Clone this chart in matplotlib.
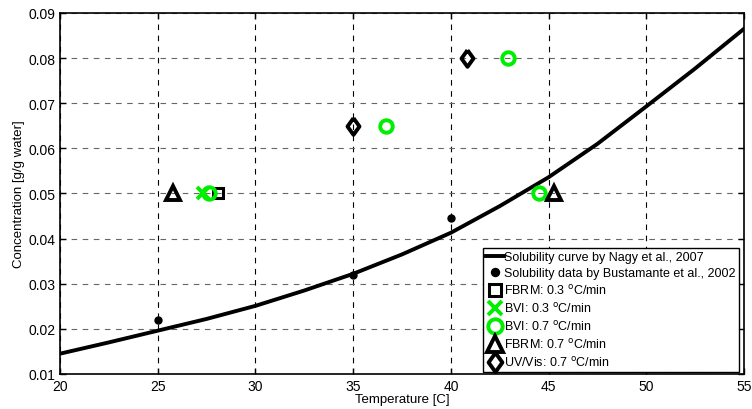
import matplotlib.pyplot as plt
import numpy as np

plt.rcParams['font.family'] = ['Liberation Sans', 'DejaVu Sans']

# solubility curve (Nagy et al., 2007)
curve_t = [20, 22.5, 25, 27.5, 30, 32.5, 35, 37.5, 40, 42.5, 45, 47.5, 50, 52.5, 55]
curve_c = [0.0145, 0.0170, 0.0196, 0.0222, 0.0251, 0.0285, 0.0322, 0.0365, 0.0413,
           0.0472, 0.0536, 0.0610, 0.0693, 0.0777, 0.0865]

# solubility data (Bustamante et al., 2002)
bust_t = [25, 35, 40]
bust_c = [0.022, 0.032, 0.0445]

fbrm03_t = [28.1]
fbrm03_c = [0.05]
bvi03_t = [27.3]
bvi03_c = [0.05]
bvi07_t = [27.6, 36.7, 42.9, 44.5]
bvi07_c = [0.05, 0.065, 0.08, 0.05]
fbrm07_t = [25.8, 45.3]
fbrm07_c = [0.05, 0.05]
uv07_t = [35.0, 40.8]
uv07_c = [0.065, 0.08]

green = '#00ee00'
diamond = [(0, 1), (0.72, 0), (0, -1), (-0.72, 0), (0, 1)]

fig = plt.figure(figsize=(7.52, 4.1), dpi=100)
ax = fig.add_axes([0.0798, 0.0854, 0.9096, 0.8805])

ax.plot(curve_t, curve_c, color='black', lw=2.8, solid_joinstyle='round',
        label='Solubility curve by Nagy et al., 2007')
ax.plot(bust_t, bust_c, 'o', color='black', ms=5, ls='none',
        label='Solubility data by Bustamante et al., 2002')
ax.plot(fbrm03_t, fbrm03_c, 's', mfc='none', mec='black', mew=2.2, ms=7.5, ls='none',
        label='FBRM: 0.3 $^{\\mathrm{o}}$C/min')
ax.plot(bvi03_t, bvi03_c, 'x', color=green, mew=2.8, ms=9, ls='none',
        label='BVI: 0.3 $^{\\mathrm{o}}$C/min')
ax.plot(bvi07_t, bvi07_c, 'o', mfc='none', mec=green, mew=2.8, ms=9, ls='none',
        label='BVI: 0.7 $^{\\mathrm{o}}$C/min')
ax.plot(fbrm07_t, fbrm07_c, '^', mfc='none', mec='black', mew=2.8, ms=10, ls='none',
        label='FBRM: 0.7 $^{\\mathrm{o}}$C/min')
ax.plot(uv07_t, uv07_c, marker=diamond, mfc='none', mec='black', mew=2.8, ms=12, ls='none',
        label='UV/Vis: 0.7 $^{\\mathrm{o}}$C/min')

ax.set_xlim(20, 55)
ax.set_ylim(0.01, 0.09)
ax.set_xticks(np.arange(20, 56, 5))
ax.set_yticks(np.arange(0.01, 0.0901, 0.01))
ax.set_yticklabels(['0.01', '0.02', '0.03', '0.04', '0.05', '0.06', '0.07', '0.08', '0.09'])
ax.tick_params(direction='in', top=True, right=True, labelsize=10, length=4, width=1)
for s in ax.spines.values():
    s.set_linewidth(1.2)

ax.xaxis.grid(True, ls=(0, (5, 5)), color='black', lw=0.8)
ax.yaxis.grid(True, ls=(0, (5, 5)), color='#666666', lw=0.8)

ax.set_xlabel('Temperature [C]', fontsize=9.5, labelpad=0)
ax.set_ylabel('Concentration [g/g water]', fontsize=9.5, labelpad=2)

leg = ax.legend(loc='lower right', bbox_to_anchor=(0.9927, 0.0055), fontsize=9,
                frameon=True, fancybox=False, edgecolor='black', framealpha=1,
                markerscale=1.15, handlelength=1.4, handletextpad=0.05,
                borderpad=0.25, labelspacing=0.32, borderaxespad=0)
leg.get_frame().set_linewidth(1.0)

fig.savefig('out.png', dpi=100)
